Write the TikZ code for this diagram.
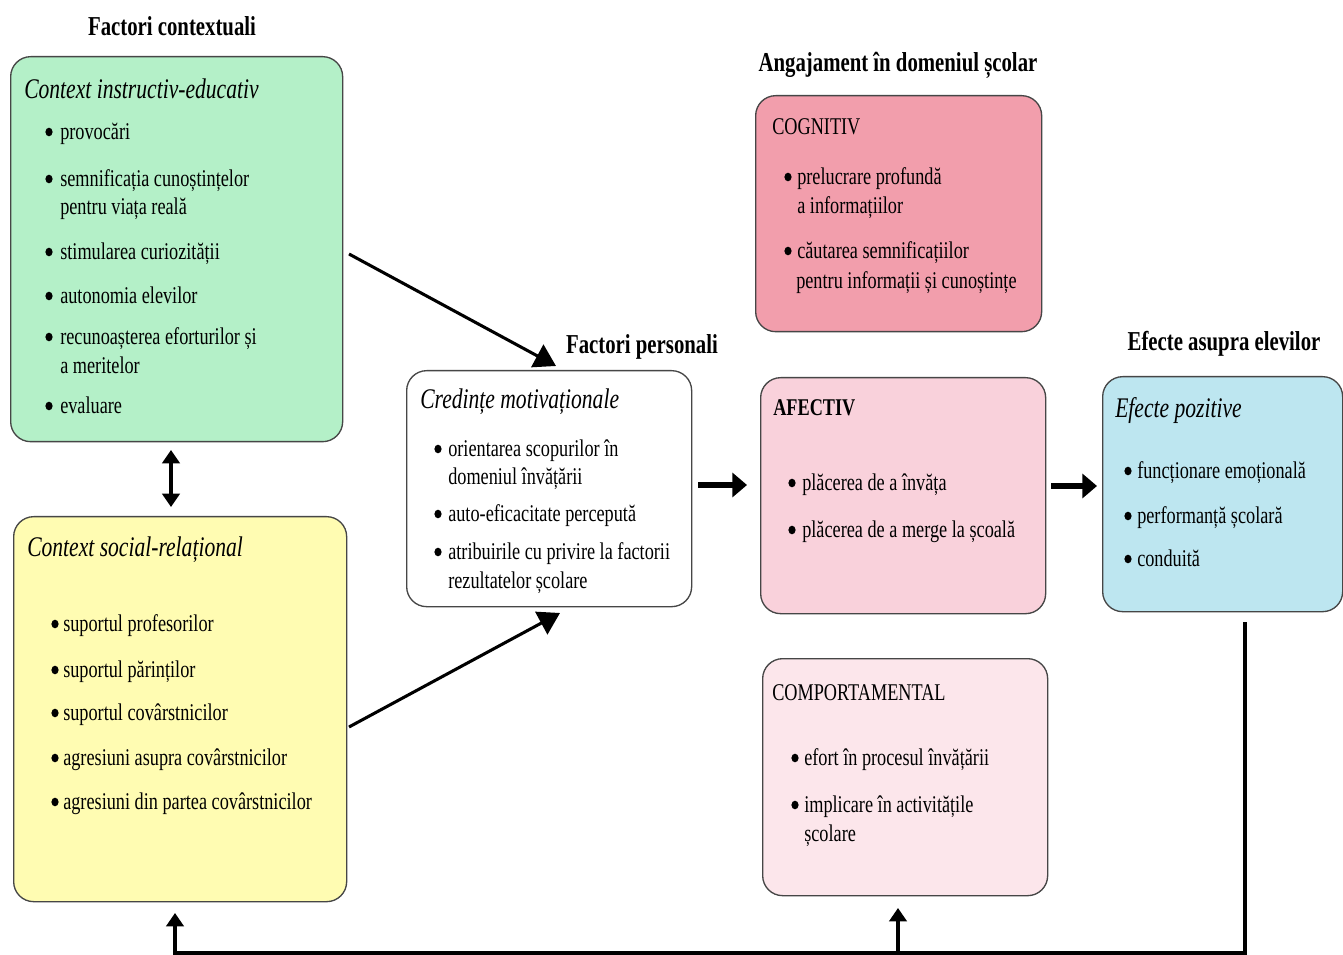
\documentclass[tikz,border=0pt]{standalone}
\usepackage{fontspec}
\setmainfont[FakeStretch=0.76]{Liberation Serif}
\usetikzlibrary{arrows.meta}
\definecolor{cgreen}{RGB}{180,240,200}
\definecolor{cyellow}{RGB}{255,252,178}
\definecolor{cpinkA}{RGB}{242,158,172}
\definecolor{cpinkB}{RGB}{249,209,219}
\definecolor{cpinkC}{RGB}{252,230,235}
\definecolor{cblue}{RGB}{189,230,240}
\definecolor{cedge}{RGB}{70,70,70}
\begin{document}
\begin{tikzpicture}[x=0.75pt,y=-0.75pt,
  card/.style={draw=cedge, line width=1pt, rounded corners=15pt, inner sep=0pt, anchor=north west},
  body/.style={anchor=west, inner sep=0pt, font=\fontsize{18}{21}\selectfont, text height=15.5pt, text depth=4pt},
  ttl/.style={anchor=west, inner sep=0pt, font=\fontsize{21.3}{25}\selectfont\itshape, text height=19pt, text depth=4.5pt},
  caps/.style={anchor=west, inner sep=0pt, font=\fontsize{18}{21}\selectfont, text height=12.5pt, text depth=0pt},
  hdr/.style={anchor=center, inner sep=0pt, font=\fontsize{20.5}{24}\selectfont\bfseries, text height=13.5pt, text depth=0pt},
  link/.style={line width=2.3pt},
  fat/.style={line width=3.8pt},
  bighead/.style={-{Triangle[length=16pt,width=19pt]}},
  widehead/.style={-{Triangle[length=11pt,width=18pt]}},
  smallhead/.style={-{Triangle[length=10pt,width=13pt]}},
]
\useasboundingbox[fill=white] (0,0) rectangle (1343,955);

% ---------- boxes ----------
\node[card, fill=cgreen,  minimum width={332*0.75pt}, minimum height={385*0.75pt}] (ctxA) at (10,56) {};
\node[card, fill=cyellow, minimum width={333*0.75pt}, minimum height={385*0.75pt}] (ctxB) at (13,516) {};
\node[card, fill=white,   minimum width={285*0.75pt}, minimum height={236*0.75pt}] (pers) at (406,370) {};
\node[card, fill=cpinkA,  minimum width={286*0.75pt}, minimum height={236*0.75pt}] (cog)  at (755,95) {};
\node[card, fill=cpinkB,  minimum width={285*0.75pt}, minimum height={236*0.75pt}] (afe)  at (760,377) {};
\node[card, fill=cpinkC,  minimum width={285*0.75pt}, minimum height={237*0.75pt}] (com)  at (762,658) {};
\node[card, fill=cblue,   minimum width={240*0.75pt}, minimum height={235*0.75pt}] (eff)  at (1102,376) {};

% ---------- headings ----------
\node[hdr] (hA) at (172,27) {Factori contextuali};
\node[hdr] (hB) at (898,63) {Angajament în domeniul școlar};
\node[hdr] (hC) at (642,345) {Factori personali};
\node[hdr] (hD) at (1224,342) {Efecte  asupra elevilor};

% ---------- contextual (instructional) ----------
\node[ttl] (a0) at (24,89) {Context instructiv-educativ};
\foreach \yy in {132,179,252,296,337,406} \fill (49,\yy) ellipse (2.7pt and 3.2pt);
\node[body] (a1) at (60,132) {provocări};
\node[body] (a2) at (60,179) {semnificația cunoștințelor};
\node[body] (a3) at (60,207) {pentru viața reală};
\node[body] (a4) at (60,252) {stimularea curiozității};
\node[body] (a5) at (60,296) {autonomia elevilor};
\node[body] (a6) at (60,337) {recunoașterea eforturilor și};
\node[body] (a7) at (60,366) {a meritelor};
\node[body] (a8) at (60,406) {evaluare};

% ---------- contextual (social) ----------
\node[ttl] (b0) at (27,547) {Context social-relațional};
\foreach \yy in {624,670,713,758,802} \fill (55,\yy) ellipse (2.7pt and 3.2pt);
\node[body] (b1) at (63,624) {suportul profesorilor};
\node[body] (b2) at (63,670) {suportul părinților};
\node[body] (b3) at (63,713) {suportul covârstnicilor};
\node[body] (b4) at (63,758) {agresiuni asupra covârstnicilor};
\node[body] (b5) at (63,802) {agresiuni din partea covârstnicilor};

% ---------- personal factors ----------
\node[ttl] (p0) at (420,399) {Credințe motivaționale};
\foreach \yy in {449,514,552} \fill (438,\yy) ellipse (2.7pt and 3.2pt);
\node[body] (p1) at (448,449) {orientarea scopurilor în};
\node[body] (p2) at (448,477) {domeniul învățării};
\node[body] (p3) at (448,514) {auto-eficacitate percepută};
\node[body] (p4) at (448,552) {atribuirile cu privire la factorii};
\node[body] (p5) at (448,581) {rezultatelor școlare};

% ---------- cognitive ----------
\node[caps] (c0) at (772,126) {COGNITIV};
\foreach \yy in {177,251} \fill (788,\yy) ellipse (2.7pt and 3.2pt);
\node[body] (c1) at (797,177) {prelucrare profundă};
\node[body] (c2) at (797,206) {a informațiilor};
\node[body] (c3) at (797,251) {căutarea semnificațiilor};
\node[body] (c4) at (796,281) {pentru informații și cunoștințe};

% ---------- affective ----------
\node[caps, font=\fontsize{18}{21}\selectfont\bfseries] (f0) at (773,407) {AFECTIV};
\foreach \yy in {483,530} \fill (792,\yy) ellipse (2.7pt and 3.2pt);
\node[body] (f1) at (802,483) {plăcerea de a învăța};
\node[body] (f2) at (802,530) {plăcerea de a merge la școală};

% ---------- behavioural ----------
\node[caps] (m0) at (772,692) {COMPORTAMENTAL};
\foreach \yy in {758,805} \fill (795,\yy) ellipse (2.7pt and 3.2pt);
\node[body] (m1) at (804,758) {efort în procesul învățării};
\node[body] (m2) at (804,805) {implicare în activitățile};
\node[body] (m3) at (804,834) {școlare};

% ---------- effects ----------
\node[ttl] (e0) at (1115,408) {Efecte pozitive};
\foreach \yy in {471,516,559} \fill (1128,\yy) ellipse (2.7pt and 3.2pt);
\node[body] (e1) at (1137,471) {funcționare emoțională};
\node[body] (e2) at (1137,516) {performanță școlară};
\node[body] (e3) at (1137,559) {conduită};

% ---------- connectors ----------
\coordinate (ab1) at (171,450);
\coordinate (ab2) at (171,507);
\draw[line width=2.6pt, {Triangle[length=10pt,width=13pt]}-{Triangle[length=10pt,width=13pt]}] (ab1) -- (ab2);

\coordinate (d1s) at (349,254);
\coordinate (d1e) at (556,366);
\draw[link, bighead] (d1s) -- (d1e);
\coordinate (d2s) at (349,727);
\coordinate (d2e) at (560,613);
\draw[link, bighead] (d2s) -- (d2e);

\coordinate (h1s) at (698,485);
\coordinate (h1e) at (747,485);
\draw[fat, widehead] (h1s) -- (h1e);
\coordinate (h2s) at (1051,486);
\coordinate (h2e) at (1097,486);
\draw[fat, widehead] (h2s) -- (h2e);

% feedback loop from the effects back to the context and behaviour
\coordinate (fb0) at (1245,622);
\coordinate (fb1) at (1245,953);
\coordinate (fb2) at (175,953);
\coordinate (fb3) at (175,913);
\coordinate (fb4) at (898,953);
\coordinate (fb5) at (898,908);
\draw[link, smallhead] (fb0) -- (fb1) -- (fb2) -- (fb3);
\draw[link, smallhead] (fb4) -- (fb5);
\end{tikzpicture}
\end{document}
